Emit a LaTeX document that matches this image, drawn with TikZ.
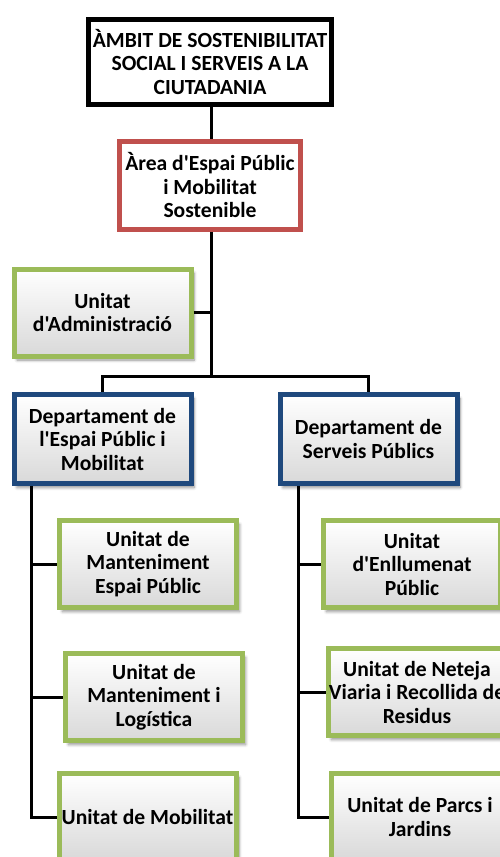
\documentclass[tikz,border=0pt]{standalone}
\usepackage{fontspec}
% plain family: keeps the straight apostrophe
\newfontfamily\orgfont{Carlito}
\usetikzlibrary{shadows.blur}
\definecolor{frameRed}{HTML}{C0504D}
\definecolor{frameGreen}{HTML}{9BBB59}
\definecolor{frameBlue}{HTML}{1F497D}
\begin{document}
\begin{tikzpicture}[x=1pt,y=-1pt,
  boxtext/.style={font=\orgfont\fontsize{21.6}{23.5}\selectfont\bfseries, align=center, text=black, inner sep=0pt},
  orgbox/.style={boxtext, rectangle, line width=5pt, minimum width=177pt, minimum height=87pt},
  topbox/.style={orgbox, draw=black, fill=white, minimum width=243pt, minimum height=85pt},
  areabox/.style={orgbox, draw=frameRed, fill=white, minimum width=181pt, minimum height=88pt},
  unitbox/.style={orgbox, draw=frameGreen, top color=white, bottom color=black!15,
    blur shadow={shadow xshift=3pt, shadow yshift=-4pt, shadow blur radius=3pt, shadow blur steps=6, shadow opacity=45}},
  deptbox/.style={orgbox, draw=frameBlue, top color=white, bottom color=black!15, minimum height=89pt,
    blur shadow={shadow xshift=3pt, shadow yshift=-4pt, shadow blur radius=3pt, shadow blur steps=6, shadow opacity=45}},
  link/.style={draw=black, line width=3pt}
]
\path[use as bounding box] (0,0) rectangle (500,857);
\clip (0,0) rectangle (500,857);

% hierarchy boxes
\node[topbox]  (ambit) at (210,62)    {ÀMBIT DE SOSTENIBILITAT\\SOCIAL I SERVEIS A LA\\CIUTADANIA};
\node[areabox] (area)  at (210,185.5) {Àrea d'Espai Públic\\i Mobilitat\\Sostenible};
\node[unitbox] (admin) at (102.5,312.5) {Unitat\\d'Administració};
\node[deptbox] (deptA) at (102.5,439) {Departament de\\l'Espai Públic i\\Mobilitat};
\node[deptbox] (deptB) at (368.5,439) {Departament de\\Serveis Públics};

% units under each department
\node[unitbox] (mantEsp) at (148,564)   {Unitat de\\Manteniment\\Espai Públic};
\node[unitbox] (mantLog) at (154,697)   {Unitat de\\Manteniment i\\Logística};
\node[unitbox] (mobil)   at (147.5,817) {Unitat de Mobilitat};
\node[unitbox] (enllum)  at (412,564)   {Unitat\\d'Enllumenat\\Públic};
\node[unitbox] (neteja)  at (417,692)   {Unitat de Neteja\\Viaria i Recollida de\\Residus};
\node[unitbox] (parcs)   at (420,817)   {Unitat de Parcs i\\Jardins};

% bus and spine coordinates
\coordinate (bus) at (211,376.5);
\coordinate (spineA) at (31.5,0);
\coordinate (spineB) at (298,0);

% connectors
\draw[link] (ambit.south -| bus) -- (area.north -| bus);
\draw[link] (area.south -| bus) -- (bus);
\draw[link] (admin.east) -- (admin.east -| bus);
\draw[link] (deptA.north) |- (bus) -| (deptB.north);
\draw[link] (deptA.south -| spineA) |- (mantEsp.west);
\draw[link] (spineA |- mantLog.west) -- (mantLog.west);
\draw[link] (spineA |- mantEsp.west) |- (mobil.west);
\draw[link] (deptB.south -| spineB) |- (enllum.west);
\draw[link] (spineB |- neteja.west) -- (neteja.west);
\draw[link] (spineB |- enllum.west) |- (parcs.west);
\end{tikzpicture}
\end{document}
